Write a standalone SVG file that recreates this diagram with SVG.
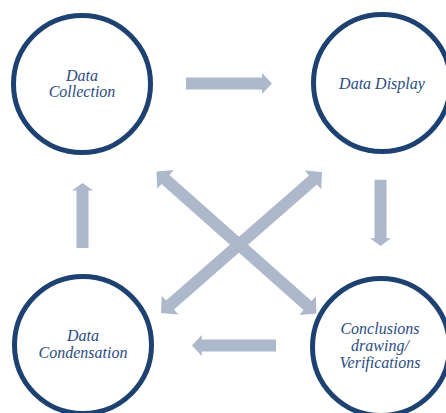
<svg xmlns="http://www.w3.org/2000/svg" width="446" height="413" viewBox="0 0 446 413">
  <style>
    .node circle { fill: #ffffff; stroke: #1d4170; stroke-width: 5; }
    .node text { font-family: "Liberation Serif", "Times New Roman", serif; font-style: italic; font-size: 16px; fill: #2b4c80; text-anchor: middle; }
    .arrow { fill: #adb9cb; }
  </style>
  <defs>
    <!-- single arrow pointing along +x, tip at origin -->
    <polygon id="single" points="-86,-6 -10,-6 -10,-10.5 0,0 -10,10.5 -10,6 -86,6"/>
    <!-- double-headed arrow centred on origin along x -->
    <polygon id="double" points="-107,0 -95,-12.5 -95,-6 95,-6 95,-12.5 107,0 95,12.5 95,6 -95,6 -95,12.5"/>
  </defs>

  <rect width="446" height="413" fill="#ffffff"/>

  <g id="connectors">
    <!-- Collection -> Display -->
    <use href="#single" class="arrow" transform="translate(272,83.5)"/>
    <!-- Display -> Conclusions -->
    <use href="#single" class="arrow" transform="translate(380.5,246) rotate(90) scale(0.77,1)"/>
    <!-- Conclusions -> Condensation -->
    <use href="#single" class="arrow" transform="translate(192,345.5) rotate(180) scale(0.977,1)"/>
    <!-- Condensation -> Collection -->
    <use href="#single" class="arrow" transform="translate(82.5,183) rotate(-90) scale(0.756,1)"/>
    <!-- diagonals -->
    <use href="#double" class="arrow" transform="translate(236.5,242.5) rotate(41.6)"/>
    <use href="#double" class="arrow" transform="translate(241.5,242.5) rotate(138.8)"/>
  </g>

  <g id="data-collection" class="node">
    <circle cx="82" cy="84" r="68.5"/>
    <text x="82" y="81">Data</text>
    <text x="82" y="97">Collection</text>
  </g>

  <g id="data-display" class="node">
    <circle cx="382" cy="83" r="68.5"/>
    <text x="382" y="89">Data Display</text>
  </g>

  <g id="data-condensation" class="node">
    <circle cx="83" cy="345" r="68.5"/>
    <text x="83" y="341">Data</text>
    <text x="83" y="358">Condensation</text>
  </g>

  <g id="conclusions" class="node">
    <circle cx="381" cy="347" r="68.5"/>
    <text x="380" y="334">Conclusions</text>
    <text x="380" y="351">drawing/</text>
    <text x="380" y="368">Verifications</text>
  </g>
</svg>
